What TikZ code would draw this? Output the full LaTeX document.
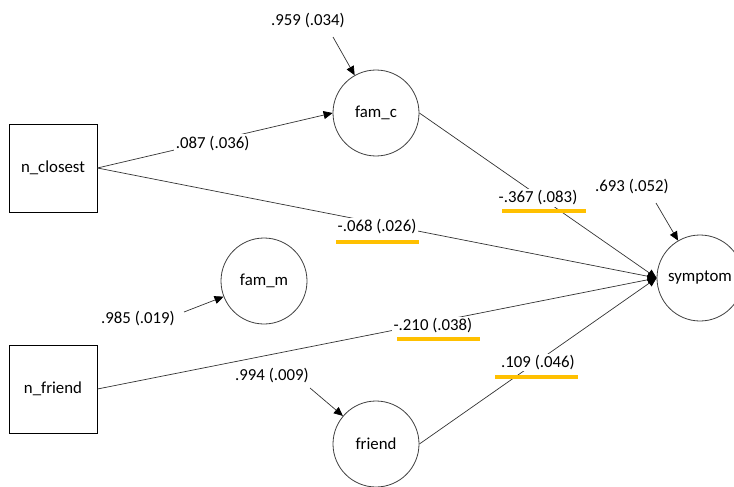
\documentclass[tikz,border=0pt]{standalone}
\usepackage{fontspec}
\setmainfont{Carlito}
\usetikzlibrary{arrows.meta}
\definecolor{gold}{RGB}{255,192,0}
\begin{document}
\begin{tikzpicture}[x=1pt,y=-1pt,
  every node/.style={font=\fontsize{16.8}{20}\selectfont},
  obs/.style={draw=black,line width=0.9pt,minimum size=88pt,inner sep=0pt},
  lat/.style={circle,draw=black!75,line width=0.8pt,minimum size=86pt,inner sep=0pt},
  conn/.style={draw=black!80,line width=0.7pt},
  arr/.style={conn,-{Triangle[length=9pt,width=8pt,color=black]}},
  lab/.style={fill=white,inner sep=1.5pt},
  uline/.style={draw=gold,line width=3.5pt}
]
\useasboundingbox (0,0) rectangle (734,487);

\node[obs] (nc) at (53,168) {n\_closest};
\node[obs] (nf) at (53,389) {n\_friend};
\node[lat] (famc) at (376,113) {fam\_c};
\node[lat] (famm) at (264,281) {fam\_m};
\node[lat] (fr) at (376,444) {friend};
\node[lat] (sym) at (700,278) {symptom};

% error terms
\node (e1) at (308,21) {.959 (.034)};
\coordinate (e1s) at (333,37);
\draw[arr] (e1s) -- (famc);
\node (e2) at (632,187) {.693 (.052)};
\coordinate (e2s) at (656,203);
\draw[arr] (e2s) -- (sym);
\node (e3) at (138,319) {.985 (.019)};
\coordinate (e3s) at (184,312);
\draw[arr] (e3s) -- (famm);
\node (e4) at (272,376) {.994 (.009)};
\coordinate (e4s) at (310,388);
\draw[arr] (e4s) -- (fr);

% paths
\draw[arr] (nc.east) -- node[lab,pos=0.49,yshift=-2pt] (l1) {.087 (.036)} (famc.west);
\draw[arr] (nc.east) -- node[lab,pos=0.5,yshift=-4pt] (l2) {-.068 (.026)} (sym.west);
\draw[arr] (famc.east) -- node[lab,pos=0.5,yshift=-2.5pt] (l3) {-.367 (.083)} (sym.west);
\draw[arr] (nf.east) -- node[lab,pos=0.6,yshift=-3.5pt] (l4) {-.210 (.038)} (sym.west);
\draw[arr] (fr.east) -- node[lab,pos=0.5,yshift=-1.5pt] (l5) {.109 (.046)} (sym.west);

% highlights
\draw[uline] (336,242) -- (419,242);
\draw[uline] (502,211) -- (586,211);
\draw[uline] (397,339) -- (480,339);
\draw[uline] (495,377) -- (578,377);
\end{tikzpicture}
\end{document}
